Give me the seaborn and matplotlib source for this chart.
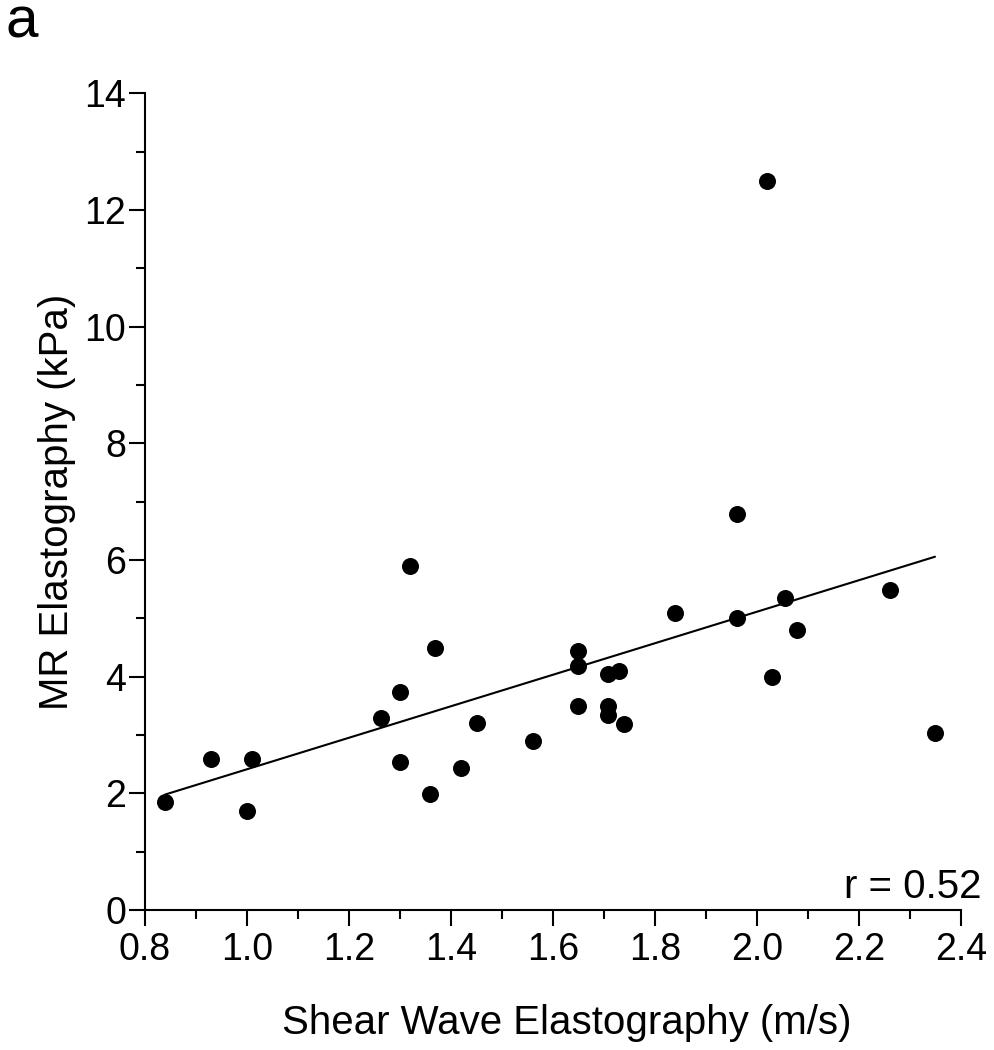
import numpy as np
import pandas as pd
import matplotlib
matplotlib.use("Agg")
import matplotlib.pyplot as plt
from matplotlib.ticker import MultipleLocator, FormatStrFormatter
import seaborn as sns

swe = [0.839, 0.929, 1.000, 1.010, 1.263, 1.300, 1.300, 1.320, 1.359, 1.369,
       1.420, 1.451, 1.561, 1.649, 1.649, 1.649, 1.708, 1.730, 1.708, 1.708,
       1.739, 1.839, 1.961, 1.961, 2.020, 2.030, 2.055, 2.078, 2.260, 2.349]
mre = [1.85, 2.59, 1.70, 2.59, 3.29, 3.74, 2.54, 5.90, 1.99, 4.49,
       2.43, 3.21, 2.90, 4.44, 4.18, 3.50, 4.05, 4.10, 3.50, 3.34,
       3.19, 5.09, 6.79, 5.01, 12.50, 3.99, 5.35, 4.80, 5.49, 3.03]

x_label = "Shear Wave Elastography (m/s)"
y_label = "MR Elastography (kPa)"
r_text = "r = 0.52"
panel = "a"

df = pd.DataFrame({"swe": swe, "mre": mre})

sns.set_style("ticks")
plt.rcParams["font.family"] = ["Liberation Sans", "DejaVu Sans"]
for k in ["text.color", "axes.labelcolor", "xtick.color", "ytick.color", "axes.edgecolor"]:
    plt.rcParams[k] = "black"
fs_tick = 27
fs_lab = 29

fig = plt.figure(figsize=(9.94, 10.5), dpi=100)
ax = fig.add_axes([145 / 994, 140 / 1050, 816 / 994, 816.7 / 1050])

sns.regplot(data=df, x="swe", y="mre", ax=ax, ci=None, truncate=True,
            scatter_kws=dict(s=150, color="black", linewidths=0, alpha=1),
            line_kws=dict(color="black", lw=1.5))

ax.set_xlim(0.8, 2.4)
ax.set_ylim(0, 14)
ax.xaxis.set_major_locator(MultipleLocator(0.2))
ax.xaxis.set_minor_locator(MultipleLocator(0.1))
ax.yaxis.set_major_locator(MultipleLocator(2))
ax.yaxis.set_minor_locator(MultipleLocator(1))
ax.xaxis.set_major_formatter(FormatStrFormatter("%.1f"))
ax.yaxis.set_major_formatter(FormatStrFormatter("%d"))

sns.despine(ax=ax)
for s in ["left", "bottom"]:
    ax.spines[s].set_linewidth(1.5)
    ax.spines[s].set_color("black")
ax.tick_params(which="major", length=11.5, width=1.5, color="black",
               labelsize=fs_tick, pad=2, direction="out", labelcolor="black")
ax.tick_params(which="minor", length=6.5, width=1.5, color="black", direction="out")
ax.tick_params(axis="x", which="major", pad=4)

ax.set_xlabel(x_label, fontsize=fs_lab, labelpad=26, color="black")
ax.xaxis.label.set_x(0.517)
ax.set_ylabel(y_label, fontsize=fs_lab, labelpad=6, color="black")

fig.text(982 / 994, 1 - 898 / 1050, r_text, ha="right", va="baseline",
         fontsize=fs_lab, color="black")
fig.text(6 / 994, 1 - 38 / 1050, panel, ha="left", va="baseline",
         fontsize=42, color="black")

fig.savefig("out.png", dpi=100)
